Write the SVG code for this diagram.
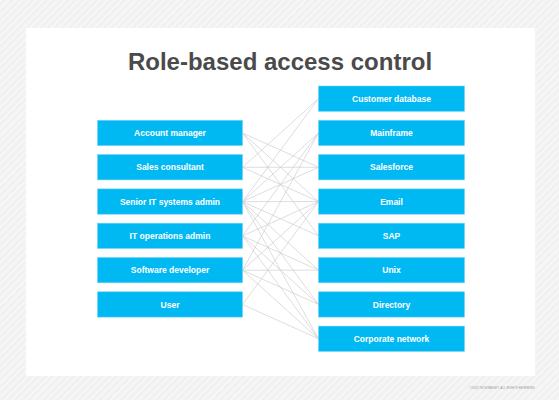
<svg xmlns="http://www.w3.org/2000/svg" width="559" height="400" viewBox="0 0 559 400">
  <defs>
    <pattern id="stripes" width="5" height="5" patternUnits="userSpaceOnUse" patternTransform="rotate(45)">
      <rect width="5" height="5" fill="#f1f1f1"/>
      <rect width="2" height="5" fill="#f7f7f7"/>
    </pattern>
  </defs>
  <style>
    .box { fill: #00b9f2; stroke: #6fd3f6; stroke-width: 0.6; }
    .lbl { fill: #ffffff; font-family: "Liberation Sans", Arial, sans-serif; font-weight: bold; font-size: 8.5px; text-anchor: middle; }
    .conn line { stroke: #cfcfcf; stroke-width: 0.7; }
  </style>
  <rect width="559" height="400" fill="url(#stripes)"/>
  <rect x="26" y="28" width="509" height="348" fill="#ffffff"/>
  <text x="280" y="69.5" font-family="'Liberation Sans', Arial, sans-serif" font-weight="bold" font-size="24" fill="#4a4a4a" text-anchor="middle">Role-based access control</text>

  <g id="connectors" class="conn">
    <!-- Account manager -->
    <line x1="242.5" y1="133" x2="318.5" y2="167.25"/>
    <line x1="242.5" y1="133" x2="318.5" y2="201.55"/>
    <line x1="242.5" y1="133" x2="318.5" y2="235.85"/>
    <!-- Sales consultant -->
    <line x1="242.5" y1="167.3" x2="318.5" y2="98.65"/>
    <line x1="242.5" y1="167.3" x2="318.5" y2="167.25"/>
    <line x1="242.5" y1="167.3" x2="318.5" y2="201.55"/>
    <!-- Senior IT systems admin -->
    <line x1="242.5" y1="201.6" x2="318.5" y2="98.65"/>
    <line x1="242.5" y1="201.6" x2="318.5" y2="132.95"/>
    <line x1="242.5" y1="201.6" x2="318.5" y2="167.25"/>
    <line x1="242.5" y1="201.6" x2="318.5" y2="201.55"/>
    <line x1="242.5" y1="201.6" x2="318.5" y2="235.85"/>
    <line x1="242.5" y1="201.6" x2="318.5" y2="270.15"/>
    <line x1="242.5" y1="201.6" x2="318.5" y2="304.45"/>
    <line x1="242.5" y1="201.6" x2="318.5" y2="338.75"/>
    <!-- IT operations admin -->
    <line x1="242.5" y1="235.9" x2="318.5" y2="132.95"/>
    <line x1="242.5" y1="235.9" x2="318.5" y2="201.55"/>
    <line x1="242.5" y1="235.9" x2="318.5" y2="270.15"/>
    <line x1="242.5" y1="235.9" x2="318.5" y2="304.45"/>
    <line x1="242.5" y1="235.9" x2="318.5" y2="338.75"/>
    <!-- Software developer -->
    <line x1="242.5" y1="270.2" x2="318.5" y2="132.95"/>
    <line x1="242.5" y1="270.2" x2="318.5" y2="201.55"/>
    <line x1="242.5" y1="270.2" x2="318.5" y2="270.15"/>
    <line x1="242.5" y1="270.2" x2="318.5" y2="304.45"/>
    <line x1="242.5" y1="270.2" x2="318.5" y2="338.75"/>
    <!-- User -->
    <line x1="242.5" y1="304.5" x2="318.5" y2="201.55"/>
    <line x1="242.5" y1="304.5" x2="318.5" y2="338.75"/>
  </g>

  <g id="role-account-manager"><rect class="box" x="97.5" y="120.3" width="145" height="25.3"/><text class="lbl" x="170" y="136">Account manager</text></g>
  <g id="role-sales-consultant"><rect class="box" x="97.5" y="154.6" width="145" height="25.3"/><text class="lbl" x="170" y="170.3">Sales consultant</text></g>
  <g id="role-senior-it"><rect class="box" x="97.5" y="188.9" width="145" height="25.3"/><text class="lbl" x="170" y="204.6">Senior IT systems admin</text></g>
  <g id="role-it-ops"><rect class="box" x="97.5" y="223.2" width="145" height="25.3"/><text class="lbl" x="170" y="238.9">IT operations admin</text></g>
  <g id="role-software-dev"><rect class="box" x="97.5" y="257.5" width="145" height="25.3"/><text class="lbl" x="170" y="273.2">Software developer</text></g>
  <g id="role-user"><rect class="box" x="97.5" y="291.8" width="145" height="25.3"/><text class="lbl" x="170" y="307.5">User</text></g>

  <g id="res-customer-db"><rect class="box" x="318.5" y="86" width="146" height="25.3"/><text class="lbl" x="391.5" y="101.7">Customer database</text></g>
  <g id="res-mainframe"><rect class="box" x="318.5" y="120.3" width="146" height="25.3"/><text class="lbl" x="391.5" y="136">Mainframe</text></g>
  <g id="res-salesforce"><rect class="box" x="318.5" y="154.6" width="146" height="25.3"/><text class="lbl" x="391.5" y="170.3">Salesforce</text></g>
  <g id="res-email"><rect class="box" x="318.5" y="188.9" width="146" height="25.3"/><text class="lbl" x="391.5" y="204.6">Email</text></g>
  <g id="res-sap"><rect class="box" x="318.5" y="223.2" width="146" height="25.3"/><text class="lbl" x="391.5" y="238.9">SAP</text></g>
  <g id="res-unix"><rect class="box" x="318.5" y="257.5" width="146" height="25.3"/><text class="lbl" x="391.5" y="273.2">Unix</text></g>
  <g id="res-directory"><rect class="box" x="318.5" y="291.8" width="146" height="25.3"/><text class="lbl" x="391.5" y="307.5">Directory</text></g>
  <g id="res-corporate-network"><rect class="box" x="318.5" y="326.1" width="146" height="25.3"/><text class="lbl" x="391.5" y="341.8">Corporate network</text></g>

  <text x="535" y="389" font-family="'Liberation Sans', Arial, sans-serif" font-size="3" fill="#9a9a9a" text-anchor="end">©2020 TECHTARGET. ALL RIGHTS RESERVED</text>
</svg>
